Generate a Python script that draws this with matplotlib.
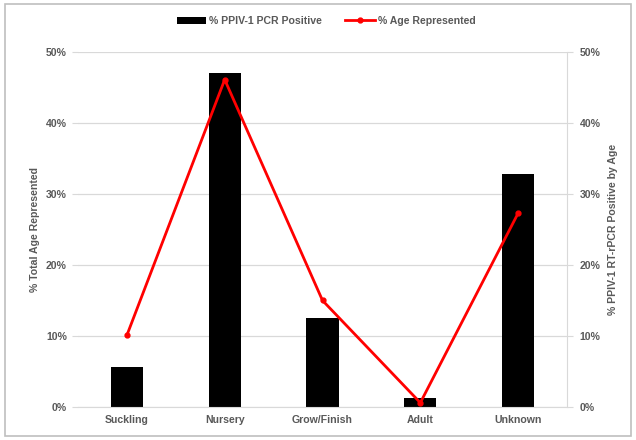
import matplotlib.pyplot as plt
from matplotlib.ticker import PercentFormatter
from matplotlib.patches import Rectangle

categories = ["Suckling", "Nursery", "Grow/Finish", "Adult", "Unknown"]
pcr_positive = [5.6, 47.0, 12.6, 1.3, 32.8]
age_represented = [10.1, 46.1, 15.0, 0.6, 27.3]
ticks = [0, 10, 20, 30, 40, 50]

plt.rcParams['font.family'] = ['Liberation Sans Narrow', 'Liberation Sans', 'DejaVu Sans']
grey = "#595959"
fs = 7.6
fig = plt.figure(figsize=(6.36, 4.4), dpi=100)
fig.patches.append(Rectangle((0.008, 0.008), 0.984, 0.984, transform=fig.transFigure,
                             fill=False, edgecolor="#bfbfbf", linewidth=1.2))

ax = fig.add_axes([0.1226, 0.075, 0.769, 0.807])
x = range(len(categories))
ax.bar(x, pcr_positive, width=0.33, color="black", label="% PPIV-1 PCR Positive", zorder=2)
ax.set_xlim(-0.5, len(categories) - 0.5)
ax.set_ylim(0, 50)
ax.set_yticks(ticks)
ax.yaxis.set_major_formatter(PercentFormatter(decimals=0))
ax.set_xticks(list(x))
ax.set_xticklabels(categories)
ax.grid(axis="y", color="#d9d9d9", linewidth=0.9, zorder=0)
for s in ["top", "right", "left"]:
    ax.spines[s].set_visible(False)
ax.spines["bottom"].set_color("#d9d9d9")
ax.tick_params(axis="y", length=4, color="#d9d9d9", labelsize=fs, labelcolor=grey, pad=4)
ax.tick_params(axis="x", length=0, labelsize=fs, labelcolor=grey, pad=6)
ax.set_ylabel("% Total Age Represented", fontsize=fs, color=grey, fontweight="bold", labelpad=4)

ax2 = ax.twinx()
ax2.plot(x, age_represented, color="#ff0000", linewidth=2, marker="o", markersize=3.5,
         label="% Age Represented", zorder=3)
ax2.set_ylim(0, 50)
ax2.set_yticks(ticks)
ax2.yaxis.set_major_formatter(PercentFormatter(decimals=0))
for s in ["top", "left", "bottom"]:
    ax2.spines[s].set_visible(False)
ax2.spines["right"].set_color("#d9d9d9")
ax2.tick_params(axis="y", length=4, color="#d9d9d9", labelsize=fs, labelcolor=grey, pad=5)
ax2.set_ylabel("% PPIV-1 RT-rPCR Positive by Age", fontsize=fs, color=grey,
               fontweight="bold", rotation=90, labelpad=5)

for lab in ax.get_xticklabels() + ax.get_yticklabels() + ax2.get_yticklabels():
    lab.set_fontweight("bold")

h1, l1 = ax.get_legend_handles_labels()
h2, l2 = ax2.get_legend_handles_labels()
leg = fig.legend(h1 + h2, l1 + l2, loc="center", bbox_to_anchor=(0.513, 0.952), ncol=2,
                 frameon=False, fontsize=fs, handlelength=2.8, columnspacing=2.2,
                 handletextpad=0.3)
for t in leg.get_texts():
    t.set_color(grey)
    t.set_fontweight("bold")

fig.savefig("out.png", dpi=100)
